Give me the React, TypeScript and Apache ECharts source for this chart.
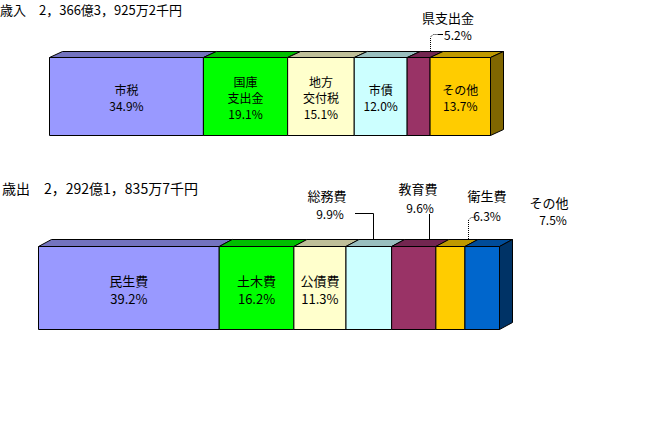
import React, { useEffect, useRef } from "react";
import * as echarts from "echarts";

// ---- data ----
const incomeTitle = "歳入　2，366億3，925万2千円";
const incomeNames = ["市税", "国庫\n支出金", "地方\n交付税", "市債", "県支出金", "その他"];
const incomeShares = [34.9, 19.1, 15.1, 12.0, 5.2, 13.7];

const expenseTitle = "歳出　2，292億1，835万7千円";
const expenseNames = ["民生費", "土木費", "公債費", "総務費", "教育費", "衛生費", "その他"];
const expenseShares = [39.2, 16.2, 11.3, 9.9, 9.6, 6.3, 7.5];

// ---- styles ----
const incomeFront = ["#9999FF", "#00FF00", "#FFFFCC", "#CCFFFF", "#993366", "#FFCC00"];
const incomeTop = ["#7373BF", "#00BF00", "#BFBF99", "#99BFBF", "#732650", "#BF9900"];
const incomeSide = "#806600";
const expenseFront = ["#9999FF", "#00FF00", "#FFFFCC", "#CCFFFF", "#993366", "#FFCC00", "#0066CC"];
const expenseTop = ["#7373BF", "#00BF00", "#BFBF99", "#99BFBF", "#732650", "#BF9900", "#004C99"];
const expenseSide = "#003366";

const FONT = '"Noto Sans CJK JP", "Noto Sans", sans-serif';

function segments(shares: number[]) {
  let acc = 0;
  return shares.map((v, i) => {
    const s = acc;
    acc += v;
    return [s, acc, i];
  });
}

function pct(v: number) {
  return v.toFixed(1) + "%";
}

function makeRender(
  names: string[],
  shares: number[],
  fronts: string[],
  tops: string[],
  side: string,
  outside: Set<number>,
  dx: number,
  dy: number,
  fontSize: number,
  lineHeight: number
) {
  return (params: any, api: any) => {
    const i = params.dataIndex;
    const s = api.value(0);
    const e = api.value(1);
    const p0 = api.coord([s, 1]);
    const p1 = api.coord([e, 0]);
    const x0 = p0[0], y0 = p0[1], x1 = p1[0], y1 = p1[1];
    const children: any[] = [
      {
        type: "polygon",
        shape: { points: [[x0, y0], [x0 + dx, y0 - dy], [x1 + dx, y0 - dy], [x1, y0]] },
        style: { fill: tops[i], stroke: "#000", lineWidth: 1 },
      },
      {
        type: "rect",
        shape: { x: x0, y: y0, width: x1 - x0, height: y1 - y0 },
        style: { fill: fronts[i], stroke: "#000", lineWidth: 1 },
      },
    ];
    if (i === shares.length - 1) {
      children.push({
        type: "polygon",
        shape: { points: [[x1, y0], [x1 + dx, y0 - dy], [x1 + dx, y1 - dy], [x1, y1]] },
        style: { fill: side, stroke: "#000", lineWidth: 1 },
      });
    }
    if (!outside.has(i)) {
      children.push({
        type: "text",
        style: {
          text: names[i] + "\n" + pct(shares[i]),
          x: (x0 + x1) / 2,
          y: (y0 + y1) / 2 + 1,
          align: "center",
          verticalAlign: "middle",
          font: `${fontSize}px ${FONT}`,
          lineHeight,
          fill: "#000",
        },
      });
    }
    return { type: "group", children };
  };
}

function txt(text: string, x: number, y: number, size: number, align = "center") {
  return {
    type: "text",
    x,
    y,
    style: { text, align, verticalAlign: "middle", font: `${size}px ${FONT}`, fill: "#000" },
  };
}

function leader(points: number[][], dotted: boolean) {
  return {
    type: "polyline",
    shape: { points },
    style: { stroke: "#000", lineWidth: 1, fill: null, lineDash: dotted ? [1, 1] : null },
  };
}

export default function App() {
  const ref = useRef<HTMLDivElement>(null);
  useEffect(() => {
    if (!ref.current) return;
    const chart = echarts.init(ref.current, null, { renderer: "svg" });
    const incomeOutside = new Set([4]);
    const expenseOutside = new Set([3, 4, 5, 6]);
    chart.setOption({
      animation: false,
      backgroundColor: "#fff",
      grid: [
        { left: 49.5, top: 57.5, width: 441, height: 78 },
        { left: 38.5, top: 246.5, width: 461, height: 83 },
      ],
      xAxis: [
        { gridIndex: 0, type: "value", min: 0, max: 100, show: false },
        { gridIndex: 1, type: "value", min: 0, max: 100, show: false },
      ],
      yAxis: [
        { gridIndex: 0, type: "value", min: 0, max: 1, show: false },
        { gridIndex: 1, type: "value", min: 0, max: 1, show: false },
      ],
      series: [
        {
          type: "custom",
          xAxisIndex: 0,
          yAxisIndex: 0,
          data: segments(incomeShares),
          renderItem: makeRender(incomeNames, incomeShares, incomeFront, incomeTop, incomeSide, incomeOutside, 13, 6, 12, 16),
        },
        {
          type: "custom",
          xAxisIndex: 1,
          yAxisIndex: 1,
          data: segments(expenseShares),
          renderItem: makeRender(expenseNames, expenseShares, expenseFront, expenseTop, expenseSide, expenseOutside, 13, 7, 13, 18),
        },
      ],
      graphic: [
        txt(incomeTitle, 0, 9, 13, "left"),
        txt(expenseTitle, 2, 188, 14, "left"),
        // income outside label
        txt(incomeNames[4], 448, 17, 13),
        txt(pct(incomeShares[4]), 444, 34, 12, "left"),
        leader([[430.5, 51], [430.5, 37], [433, 34.5], [439, 34.5]], true),
        leader([[438, 34.5], [443, 34.5]], false),
        // expense outside labels
        txt(expenseNames[3], 327, 195, 13),
        txt(pct(expenseShares[3]), 330, 213, 12),
        leader([[355, 213.5], [373.5, 213.5], [373.5, 239]], false),
        txt(expenseNames[4], 418, 188, 13),
        txt(pct(expenseShares[4]), 420, 207, 12),
        leader([[429.5, 214], [429.5, 239]], false),
        txt(expenseNames[5], 487, 195, 13),
        txt(pct(expenseShares[5]), 487, 215, 12),
        leader([[468.5, 239], [468.5, 220], [471, 217.5], [476, 217.5]], true),
        txt(expenseNames[6], 549, 202, 13),
        txt(pct(expenseShares[6]), 553, 219, 12),
      ],
    });
    return () => chart.dispose();
  }, []);
  return (
    <div
      ref={ref}
      style={{ position: "fixed", left: 0, top: 0, width: 660, height: 440, background: "#fff" }}
    />
  );
}
